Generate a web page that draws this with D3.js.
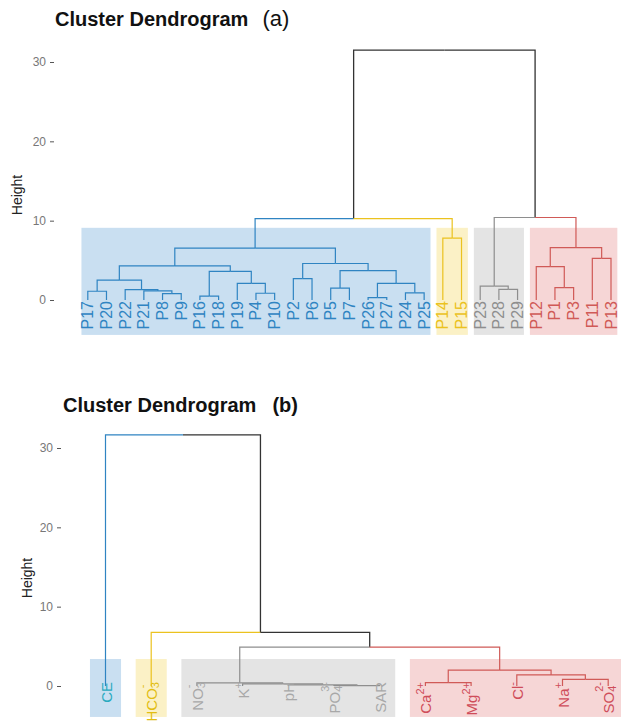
<!DOCTYPE html>
<html>
<head>
<meta charset="utf-8">
<script src="https://cdn.jsdelivr.net/npm/d3@7"></script>
<style>
  body { margin: 0; background: #fff; }
  svg { display: block; font-family: "Liberation Sans", Arial, sans-serif; }
</style>
</head>
<body>
<svg id="chart" width="621" height="722"></svg>
<script>
// ---------- palette (jco) ----------
const clusterColors = ["#2f84c2", "#ebc21f", "#8e8e8e", "#d05a57"];
const clusterFills  = ["#c9dff1", "#fbf1c6", "#e4e4e4", "#f6d6d6"];
const labelColorsB  = ["#2aaabf", "#e2bd12", "#a8a8a8", "#cf4d5a"];

// ---------- dendrogram (a): sampling points ----------
const leavesA = ["P17","P20","P22","P21","P8","P9","P16","P18","P19","P4","P10",
                 "P2","P6","P5","P7","P26","P27","P24","P25",
                 "P14","P15","P23","P28","P29","P12","P1","P3","P11","P13"];
const clustersA = [0,0,0,0,0,0,0,0,0,0,0,0,0,0,0,0,0,0,0, 1,1, 2,2,2, 3,3,3,3,3];
// merges: [left, right, height]; a string is a leaf, a number an earlier merge
const mergesA = [
  ["P26","P27",0.3],   // 0
  ["P16","P18",0.5],   // 1
  ["P8","P9",0.8],     // 2
  ["P4","P10",0.85],   // 3
  ["P24","P25",0.9],   // 4
  ["P17","P20",1.1],   // 5
  ["P21",2,1.15],      // 6
  ["P22",6,1.3],       // 7
  ["P28","P29",1.35],  // 8
  ["P5","P7",1.5],     // 9
  ["P1","P3",1.55],    // 10
  ["P23",8,1.75],      // 11
  [0,4,2.1],           // 12
  ["P19",3,2.1],       // 13
  [5,7,2.5],           // 14
  ["P2","P6",2.7],     // 15
  [1,13,3.6],          // 16
  [9,12,3.7],          // 17
  ["P12",10,4.2],      // 18
  [14,16,4.3],         // 19
  [15,17,4.6],         // 20
  ["P11","P13",5.25],  // 21
  [19,20,6.55],        // 22
  [18,21,6.6],         // 23
  ["P14","P15",7.8],   // 24
  [22,24,10.25],       // 25
  [11,23,10.4],        // 26
  [25,26,31.5]         // 27
];
const rectRangeA = [-4.4, 9.1];

// ---------- dendrogram (b): variables ----------
const leavesB = ["CE","HCO3","NO3","K","pH","PO4","SAR","Ca","Mg","Cl","Na","SO4"];
const clustersB = [0, 1, 2,2,2,2,2, 3,3,3,3,3];
// label parts: [base, subscript, superscript]
const labelPartsB = [
  ["CE","",""], ["HCO","3","-"], ["NO","3","-"], ["K","","+"], ["pH","",""],
  ["PO","4","3-"], ["SAR","",""], ["Ca","","2+"], ["Mg","","2+"], ["Cl","","-"],
  ["Na","","+"], ["SO","4","2-"]
];
const mergesB = [
  ["PO4","SAR",0.05],  // 0
  ["pH",0,0.15],       // 1
  ["K",1,0.28],        // 2
  ["NO3",2,0.4],       // 3
  ["Ca","Mg",0.42],    // 4
  ["Na","SO4",0.84],   // 5
  ["Cl",5,1.4],        // 6
  [4,6,2.0],           // 7
  [3,7,4.9],           // 8
  ["HCO3",8,6.75],     // 9
  ["CE",9,31.65]       // 10
];
const rectRangeB = [-3.9, 3.4];

const yTicks = [0, 10, 20, 30];

const svg = d3.select("#chart");

function buildTree(leaves, clusters, merges) {
  const leafNodes = {};
  leaves.forEach((name, i) => {
    leafNodes[name] = { name, cluster: clusters[i], height: 0, leaf: true };
  });
  const nodes = [];
  merges.forEach(([a, b, h]) => {
    const kids = [a, b].map(r => typeof r === "string" ? leafNodes[r] : nodes[r]);
    const c = kids[0].cluster === kids[1].cluster ? kids[0].cluster : null;
    nodes.push({ children: kids, height: h, cluster: c });
  });
  return nodes[nodes.length - 1];
}

function placeX(node, x) {
  if (node.leaf) { node.x = x(node.name); return node.x; }
  node.x = d3.mean(node.children, ch => placeX(ch, x));
  return node.x;
}

function collectSegments(node, out) {
  if (node.leaf) return out;
  node.children.forEach(ch => {
    out.push({ parent: node, child: ch });
    collectSegments(ch, out);
  });
  return out;
}

function drawDendrogram(opt) {
  const g = svg.append("g");
  const x = d3.scalePoint().domain(opt.leaves).range(opt.xRange);
  const y = d3.scaleLinear().domain([0, 30]).range(opt.yRange);
  const step = x.step();

  // cluster rectangles
  const groups = d3.groups(opt.leaves.map((n, i) => ({ n, c: opt.clusters[i] })), d => d.c);
  g.selectAll("rect.cl").data(groups).join("rect")
    .attr("class", "cl")
    .attr("x", d => x(d[1][0].n) - step * opt.rectPad)
    .attr("width", d => x(d[1][d[1].length - 1].n) - x(d[1][0].n) + 2 * step * opt.rectPad)
    .attr("y", y(opt.rectRange[1]))
    .attr("height", y(opt.rectRange[0]) - y(opt.rectRange[1]))
    .attr("fill", d => clusterFills[d[0]]);

  // branches
  const root = buildTree(opt.leaves, opt.clusters, opt.merges);
  placeX(root, x);
  const segs = collectSegments(root, []);
  g.selectAll("path.br").data(segs).join("path")
    .attr("class", "br")
    .attr("fill", "none")
    .attr("stroke", d => d.child.cluster === null ? "#333" : clusterColors[d.child.cluster])
    .attr("stroke-width", d => d.child.cluster === null ? 1.3 : 1.2)
    .attr("d", d => `M${d.parent.x},${y(d.parent.height)}H${d.child.x}V${y(d.child.height)}`);

  // axis
  const axis = g.append("g")
    .attr("transform", `translate(${opt.axisX},0)`)
    .call(d3.axisLeft(y).tickValues(yTicks).tickSize(4).tickPadding(4));
  axis.select(".domain").remove();
  axis.selectAll(".tick line").attr("stroke", "#555");
  axis.selectAll(".tick text").attr("fill", "#777").attr("font-size", 12)
    .attr("font-family", "Liberation Sans, Arial, sans-serif");

  g.append("text")
    .attr("transform", `translate(${opt.heightX},${opt.heightY}) rotate(-90)`)
    .attr("text-anchor", "middle")
    .attr("font-size", 14).attr("fill", "#222")
    .text("Height");

  // title
  const t = g.append("text")
    .attr("x", opt.titleX).attr("y", opt.titleY)
    .attr("fill", "#111");
  t.append("tspan").attr("font-size", 20).attr("font-weight", "bold").text("Cluster Dendrogram");
  t.append("tspan").attr("font-size", opt.tagSize).attr("font-weight", opt.tagWeight)
    .attr("dx", opt.tagGap).text(opt.tag);

  return { x, y, g };
}

// ---------- (a) ----------
const A = drawDendrogram({
  leaves: leavesA, clusters: clustersA, merges: mergesA,
  xRange: [87.8, 611], yRange: [300, 62], rectPad: 0.34, rectRange: rectRangeA,
  axisX: 54, heightX: 22, heightY: 195,
  titleX: 55, titleY: 26, tag: "(a)", tagSize: 22, tagWeight: "normal", tagGap: 14
});
A.g.selectAll("text.lbl").data(leavesA).join("text")
  .attr("class", "lbl")
  .attr("transform", d => `translate(${A.x(d)},${A.y(0) + 1}) rotate(-90)`)
  .attr("text-anchor", "end").attr("dominant-baseline", "central")
  .attr("font-size", 16)
  .attr("fill", (d, i) => clusterColors[clustersA[i]])
  .text(d => d);

// ---------- (b) ----------
const B = drawDendrogram({
  leaves: leavesB, clusters: clustersB, merges: mergesB,
  xRange: [105.5, 608.2], yRange: [686, 448], rectPad: 0.34, rectRange: rectRangeB,
  axisX: 61, heightX: 32, heightY: 578,
  titleX: 63, titleY: 412, tag: "(b)", tagSize: 20, tagWeight: "bold", tagGap: 16
});
leavesB.forEach((name, i) => {
  const [base, sub, sup] = labelPartsB[i];
  const t = B.g.append("text")
    .attr("transform", `translate(${B.x(name)},${B.y(0) - 4}) rotate(-90)`)
    .attr("text-anchor", "end").attr("dominant-baseline", "central")
    .attr("font-size", 15)
    .attr("fill", labelColorsB[clustersB[i]]);
  t.append("tspan").text(base);
  let subW = 0;
  if (sub) {
    const s = t.append("tspan").attr("font-size", 11).attr("dy", "0.35em").text(sub);
    subW = s.node().getComputedTextLength();
  }
  if (sup) {
    t.append("tspan").attr("font-size", 11)
      .attr("dx", sub ? -subW : 0)
      .attr("dy", sub ? "-1.2em" : "-0.45em")
      .text(sup);
  }
});
</script>
</body>
</html>
